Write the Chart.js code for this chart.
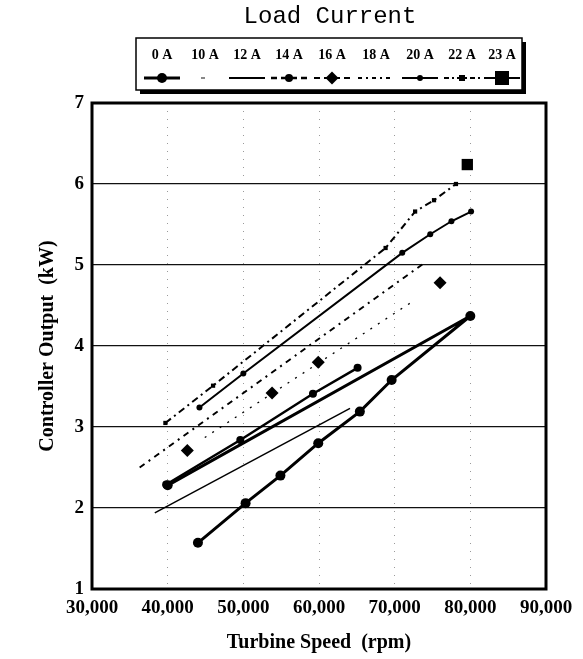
<!DOCTYPE html>
<html>
<head>
<meta charset="utf-8">
<script src="https://cdn.jsdelivr.net/npm/chart.js@4"></script>
<style>
  html, body { margin: 0; padding: 0; background: #fff; }
  #wrap { width: 583px; height: 659px; position: relative; }
</style>
</head>
<body>
<div id="wrap"><canvas id="chart" width="583" height="659"></canvas></div>
<script>
// Load current series (turbine speed rpm vs controller output kW)
const labels = ['0 A', '10 A', '12 A', '14 A', '16 A', '18 A', '20 A', '22 A', '23 A'];

const speed0A = [44000, 50300, 54900, 59900, 65400, 69600, 80000, 40000];
const power0A = [1.57, 2.06, 2.40, 2.80, 3.19, 3.58, 4.37, 2.28];
const speed10A = [44900, 72700];
const power10A = [2.87, 4.57];
const speed12A = [38300, 64100];
const power12A = [1.94, 3.23];
const speed14A = [39800, 49600, 59200, 65100];
const power14A = [2.29, 2.84, 3.41, 3.73];
const speed16A = [42600, 53800, 59900, 76000];
const power16A = [2.71, 3.42, 3.80, 4.78];
const speed18A = [36300, 74000];
const power18A = [2.50, 5.03];
const speed20A = [44200, 50000, 71000, 74700, 77500, 80100];
const power20A = [3.24, 3.66, 5.15, 5.38, 5.54, 5.66];
const speed22A = [39700, 46000, 68800, 72700, 75200, 78100];
const power22A = [3.05, 3.51, 5.21, 5.66, 5.80, 6.00];
const speed23A = [79600];
const power23A = [6.24];

const xTicks = [30000, 40000, 50000, 60000, 70000, 80000, 90000];
const yTicks = [1, 2, 3, 4, 5, 6, 7];

const pts = (xs, ys) => xs.map((x, i) => ({ x, y: ys[i] }));
const serif = '"Liberation Serif", "Times New Roman", serif';

// one entry per legend item, same order as labels
const styles = [
  { data: pts(speed0A, power0A), borderWidth: 3, borderDash: [], pointStyle: 'circle', pointRadius: 5, sample: [] },
  { data: pts(speed10A, power10A), borderWidth: 1.3, borderDash: [2, 7], pointStyle: false, pointRadius: 0, sample: [4, 40], faint: true },
  { data: pts(speed12A, power12A), borderWidth: 1.5, borderDash: [], pointStyle: false, pointRadius: 0, sample: [] },
  { data: pts(speed14A, power14A), borderWidth: 2.5, borderDash: [], pointStyle: 'circle', pointRadius: 4, sample: [6, 4] },
  { data: pts(speed16A, power16A), borderWidth: 0, borderDash: [], pointStyle: 'rectRot', pointRadius: 6.5, showLine: false, sample: [6, 4] },
  { data: pts(speed18A, power18A), borderWidth: 2, borderDash: [6, 5, 2, 5], pointStyle: false, pointRadius: 0, sample: [4, 4, 2, 4] },
  { data: pts(speed20A, power20A), borderWidth: 2, borderDash: [], pointStyle: 'circle', pointRadius: 3, sample: [] },
  { data: pts(speed22A, power22A), borderWidth: 2, borderDash: [7, 4, 2, 4], pointStyle: 'rect', pointRadius: 3, sample: [5, 3, 2, 3] },
  { data: pts(speed23A, power23A), borderWidth: 0, borderDash: [], pointStyle: 'rect', pointRadius: 8, showLine: false, sample: [] }
];

const datasets = labels.map((label, i) => {
  const s = styles[i];
  return {
    label,
    data: s.data,
    showLine: s.showLine !== false,
    borderColor: '#000',
    backgroundColor: '#000',
    borderWidth: s.borderWidth,
    borderDash: s.borderDash,
    pointStyle: s.pointStyle || 'circle',
    pointRadius: s.pointStyle ? s.pointRadius : 0,
    pointBackgroundColor: '#000',
    pointBorderColor: '#000',
    pointBorderWidth: 0,
    tension: 0,
    sample: s.sample,
    faint: !!s.faint
  };
});

// boxed legend with title above, plus heavy frame round the plot
const decorations = {
  id: 'decorations',
  afterDraw(chart) {
    const ctx = chart.ctx;
    const a = chart.chartArea;
    ctx.save();

    // plot frame
    ctx.strokeStyle = '#000';
    ctx.lineWidth = 3;
    ctx.strokeRect(a.left, a.top, a.right - a.left, a.bottom - a.top);

    // legend title
    ctx.fillStyle = '#000';
    ctx.font = '24px "Liberation Mono", "DejaVu Sans Mono", monospace';
    ctx.textAlign = 'center';
    ctx.textBaseline = 'middle';
    ctx.fillText('Load Current', 330, 17);

    // legend box with drop shadow
    const bx = 136, by = 38, bw = 386, bh = 52;
    ctx.fillRect(bx + 4, by + 4, bw, bh);
    ctx.fillStyle = '#fff';
    ctx.fillRect(bx, by, bw, bh);
    ctx.lineWidth = 1.5;
    ctx.strokeRect(bx, by, bw, bh);

    const centers = [162, 205, 247, 289, 332, 376, 420, 462, 502];
    ctx.font = 'bold 14px ' + serif;
    chart.data.datasets.forEach((ds, i) => {
      const cx = centers[i];
      ctx.fillStyle = '#000';
      ctx.fillText(ds.label, cx, 55);

      const sy = 78;
      const half = i === 1 ? 4 : 18;
      ctx.strokeStyle = ds.faint ? '#888' : '#000';
      ctx.lineWidth = Math.max(ds.borderWidth, 2);
      ctx.setLineDash(ds.sample || []);
      ctx.beginPath();
      ctx.moveTo(cx - half, sy);
      ctx.lineTo(cx + half, sy);
      ctx.stroke();
      ctx.setLineDash([]);
      if (ds.pointRadius > 0) {
        const r = Math.min(ds.pointRadius, 7);
        ctx.beginPath();
        if (ds.pointStyle === 'rectRot') {
          ctx.moveTo(cx, sy - r); ctx.lineTo(cx + r, sy); ctx.lineTo(cx, sy + r); ctx.lineTo(cx - r, sy);
          ctx.closePath();
        } else if (ds.pointStyle === 'rect') {
          ctx.rect(cx - r, sy - r, 2 * r, 2 * r);
        } else {
          ctx.arc(cx, sy, r, 0, Math.PI * 2);
        }
        ctx.fill();
      }
    });
    ctx.restore();
  }
};

new Chart(document.getElementById('chart'), {
  type: 'scatter',
  data: { datasets },
  options: {
    responsive: false,
    animation: false,
    layout: { padding: { top: 103, right: 37, left: 32, bottom: 0 } },
    plugins: { legend: { display: false }, tooltip: { enabled: false } },
    scales: {
      x: {
        type: 'linear', min: 30000, max: 90000,
        afterBuildTicks: s => { s.ticks = xTicks.map(v => ({ value: v })); },
        afterFit: s => { s.height = 70; },
        ticks: {
          color: '#000', padding: 8, maxRotation: 0,
          font: { family: serif, size: 19, weight: 'bold' },
          callback: v => v.toLocaleString('en-US')
        },
        grid: { color: '#9a9a9a', lineWidth: 1, drawTicks: false },
        border: { display: false, dash: [1, 7] },
        title: {
          display: true, text: 'Turbine Speed  (rpm)', color: '#000',
          font: { family: serif, size: 20, weight: 'bold' }, padding: { top: 0 }
        }
      },
      y: {
        min: 1, max: 7,
        afterBuildTicks: s => { s.ticks = yTicks.map(v => ({ value: v })); },
        afterFit: s => { s.width = 60; },
        ticks: {
          color: '#000', padding: 8,
          font: { family: serif, size: 19, weight: 'bold' }
        },
        grid: { color: '#111', lineWidth: 1.2, drawTicks: false },
        border: { display: false },
        title: {
          display: true, text: 'Controller Output  (kW)', color: '#000',
          font: { family: serif, size: 20, weight: 'bold' }, padding: { bottom: 4 }
        }
      }
    }
  },
  plugins: [decorations]
});
</script>
</body>
</html>
